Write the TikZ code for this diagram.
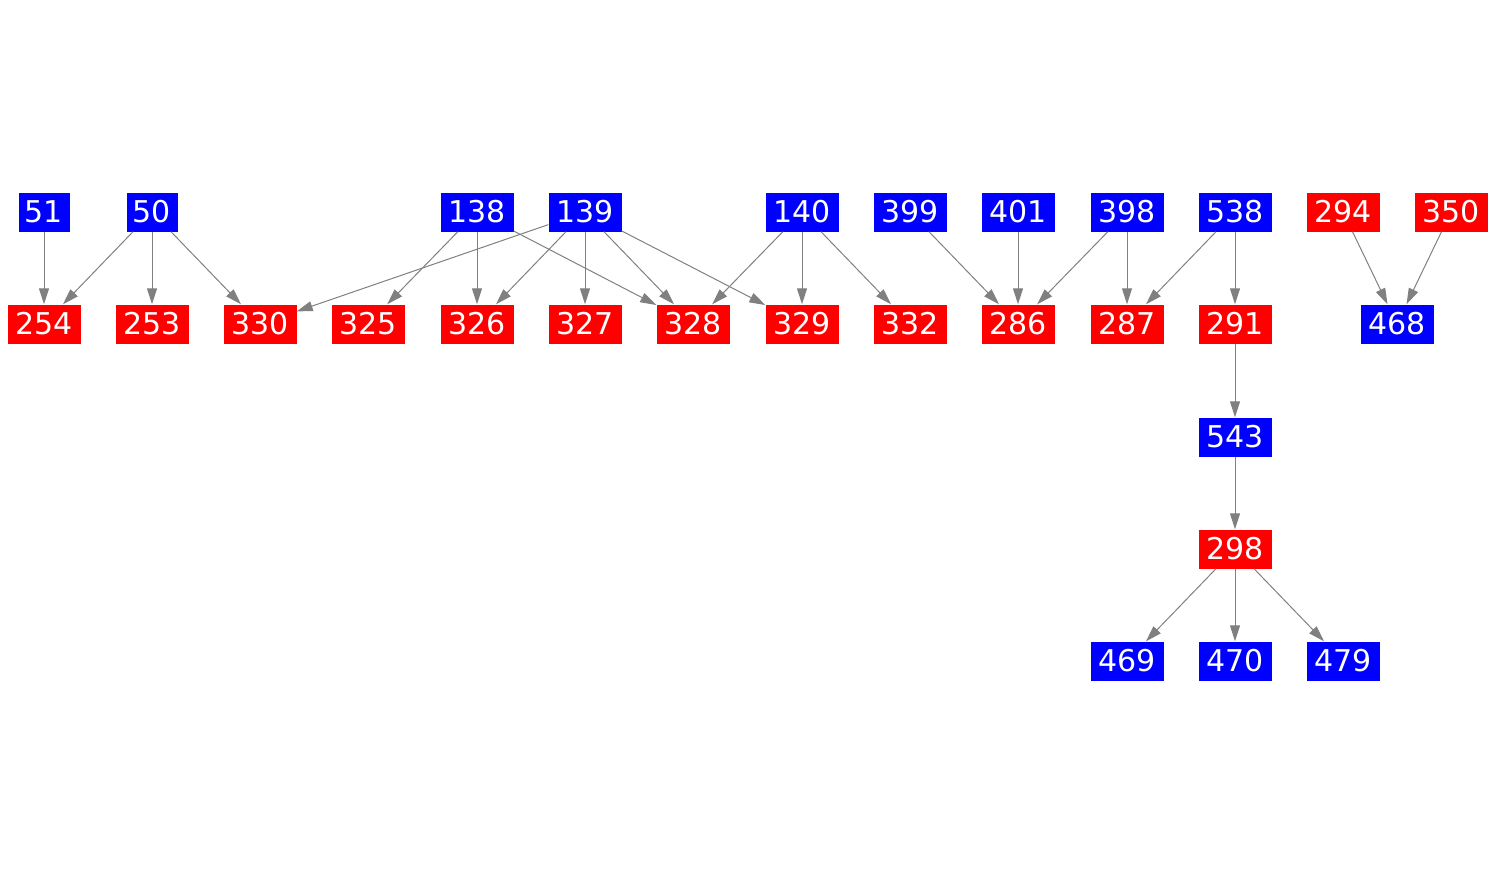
\documentclass[tikz,border=0pt]{standalone}
\usepackage{fontspec}
\setmainfont{DejaVu Sans}
\usetikzlibrary{arrows.meta}
\definecolor{bblue}{RGB}{0,0,255}
\definecolor{rred}{RGB}{255,0,0}
\definecolor{egray}{RGB}{128,128,128}
\begin{document}
\begin{tikzpicture}[x=1pt,y=-1pt,
  bx/.style={inner sep=0pt,minimum height=39pt,text=white,font=\fontsize{30}{35}\selectfont},
  three/.style={bx,minimum width=73pt},
  two/.style={bx,minimum width=51pt},
  bl/.style={fill=bblue},
  rd/.style={fill=rred},
  edge/.style={draw=egray,line width=1pt,-{Triangle[length=16pt,width=10pt]}}]
\useasboundingbox (0,0) rectangle (1496,875);
% row 1
\node[two,bl] (n51) at (44,212) {51};
\node[two,bl] (n50) at (152,212) {50};
\node[three,bl] (n138) at (477,212) {138};
\node[three,bl] (n139) at (585,212) {139};
\node[three,bl] (n140) at (802,212) {140};
\node[three,bl] (n399) at (910,212) {399};
\node[three,bl] (n401) at (1018,212) {401};
\node[three,bl] (n398) at (1127,212) {398};
\node[three,bl] (n538) at (1235,212) {538};
\node[three,rd] (n294) at (1343,212) {294};
\node[three,rd] (n350) at (1451,212) {350};
% row 2
\node[three,rd] (n254) at (44,324) {254};
\node[three,rd] (n253) at (152,324) {253};
\node[three,rd] (n330) at (260,324) {330};
\node[three,rd] (n325) at (368,324) {325};
\node[three,rd] (n326) at (477,324) {326};
\node[three,rd] (n327) at (585,324) {327};
\node[three,rd] (n328) at (693,324) {328};
\node[three,rd] (n329) at (802,324) {329};
\node[three,rd] (n332) at (910,324) {332};
\node[three,rd] (n286) at (1018,324) {286};
\node[three,rd] (n287) at (1127,324) {287};
\node[three,rd] (n291) at (1235,324) {291};
\node[three,bl] (n468) at (1397,324) {468};
% lower rows
\node[three,bl] (n543) at (1235,437) {543};
\node[three,rd] (n298) at (1235,549) {298};
\node[three,bl] (n469) at (1127,661) {469};
\node[three,bl] (n470) at (1235,661) {470};
\node[three,bl] (n479) at (1343,661) {479};
% edges
\draw[edge] (n51) -- (n254);
\draw[edge] (n50) -- (n254);
\draw[edge] (n50) -- (n253);
\draw[edge] (n50) -- (n330);
\draw[edge] (n138) -- (n325);
\draw[edge] (n138) -- (n326);
\draw[edge] (n138) -- (n328);
\draw[edge] (n139) -- (n330);
\draw[edge] (n139) -- (n326);
\draw[edge] (n139) -- (n327);
\draw[edge] (n139) -- (n328);
\draw[edge] (n139) -- (n329);
\draw[edge] (n140) -- (n328);
\draw[edge] (n140) -- (n329);
\draw[edge] (n140) -- (n332);
\draw[edge] (n399) -- (n286);
\draw[edge] (n401) -- (n286);
\draw[edge] (n398) -- (n286);
\draw[edge] (n398) -- (n287);
\draw[edge] (n538) -- (n287);
\draw[edge] (n538) -- (n291);
\draw[edge] (n291) -- (n543);
\draw[edge] (n543) -- (n298);
\draw[edge] (n298) -- (n469);
\draw[edge] (n298) -- (n470);
\draw[edge] (n298) -- (n479);
\draw[edge] (n294) -- (n468);
\draw[edge] (n350) -- (n468);
\end{tikzpicture}
\end{document}
